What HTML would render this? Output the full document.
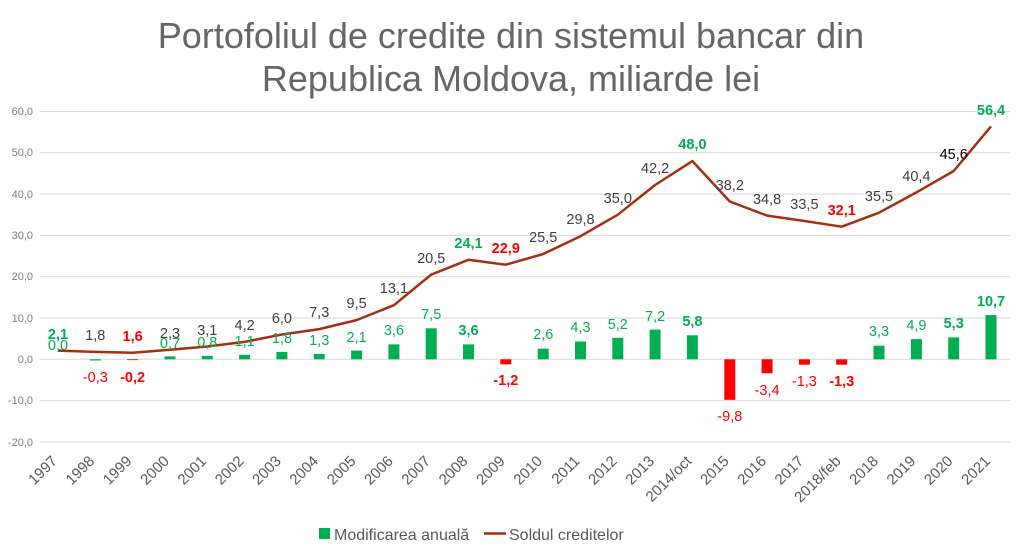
<!DOCTYPE html>
<html><head><meta charset="utf-8"><style>
body{margin:0;background:#fff}
svg{font-family:"Liberation Sans",sans-serif;display:block}
.yl{font-size:11px;fill:#7f7f7f;text-anchor:end}
.ll{font-size:14.5px;fill:#404040;text-anchor:middle}
.bl{font-size:14.5px;fill:#00b050;text-anchor:middle}
.neg{fill:#ff0000}
.b{font-weight:bold}
.g{fill:#00b050}
.xl{font-size:15px;fill:#595959;text-anchor:end}
</style></head><body>
<svg width="1022" height="556" viewBox="0 0 1022 556">
<text x="511" y="48" font-size="36" fill="#666" text-anchor="middle">Portofoliul de credite din sistemul bancar din</text>
<text x="511" y="91" font-size="36" fill="#666" text-anchor="middle">Republica Moldova, miliarde lei</text>
<g stroke="#d9d9d9" stroke-width="1">
<line x1="40" x2="1010" y1="111.5" y2="111.5"/><line x1="40" x2="1010" y1="152.8" y2="152.8"/>
<line x1="40" x2="1010" y1="194.1" y2="194.1"/><line x1="40" x2="1010" y1="235.4" y2="235.4"/>
<line x1="40" x2="1010" y1="276.7" y2="276.7"/><line x1="40" x2="1010" y1="318" y2="318"/>
<line x1="40" x2="1010" y1="359.3" y2="359.3"/><line x1="40" x2="1010" y1="400.6" y2="400.6"/>
<line x1="40" x2="1010" y1="441.9" y2="441.9"/>
</g>
<g class="yl">
<text x="33" y="115">60,0</text><text x="33" y="156">50,0</text><text x="33" y="198">40,0</text>
<text x="33" y="239">30,0</text><text x="33" y="280">20,0</text><text x="33" y="322">10,0</text>
<text x="33" y="363">0,0</text><text x="33" y="404">-10,0</text><text x="33" y="446">-20,0</text>
</g>
<g fill="#00b050">
<rect x="89.8" y="359.3" width="11" height="1.2"/>
<rect x="127.1" y="359.3" width="11" height="0.8" fill="#ff0000"/>
<rect x="164.5" y="356.4" width="11" height="2.9"/>
<rect x="201.8" y="356" width="11" height="3.3"/>
<rect x="239.1" y="354.8" width="11" height="4.5"/>
<rect x="276.4" y="351.9" width="11" height="7.4"/>
<rect x="313.7" y="353.9" width="11" height="5.4"/>
<rect x="351.1" y="350.6" width="11" height="8.7"/>
<rect x="388.4" y="344.4" width="11" height="14.9"/>
<rect x="425.7" y="328.3" width="11" height="31"/>
<rect x="463" y="344.4" width="11" height="14.9"/>
<rect x="500.3" y="359.3" width="11" height="5" fill="#ff0000"/>
<rect x="537.7" y="348.6" width="11" height="10.7"/>
<rect x="575" y="341.5" width="11" height="17.8"/>
<rect x="612.3" y="337.8" width="11" height="21.5"/>
<rect x="649.6" y="329.6" width="11" height="29.7"/>
<rect x="686.9" y="335.3" width="11" height="24"/>
<rect x="724.3" y="359.3" width="11" height="40.5" fill="#ff0000"/>
<rect x="761.6" y="359.3" width="11" height="14" fill="#ff0000"/>
<rect x="798.9" y="359.3" width="11" height="5.4" fill="#ff0000"/>
<rect x="836.2" y="359.3" width="11" height="5.4" fill="#ff0000"/>
<rect x="873.5" y="345.7" width="11" height="13.6"/>
<rect x="910.9" y="339.1" width="11" height="20.2"/>
<rect x="948.2" y="337.4" width="11" height="21.9"/>
<rect x="985.5" y="315.1" width="11" height="44.2"/>
</g>
<polyline fill="none" stroke="#a5300f" stroke-width="2.5" stroke-linejoin="round" points="58,350.6 95.3,351.9 132.6,352.7 170,349.8 207.3,346.5 244.6,341.9 281.9,334.5 319.2,329.1 356.6,320.1 393.9,305.2 431.2,274.6 468.5,259.8 505.8,264.7 543.2,254 580.5,236.2 617.8,214.7 655.1,185 692.4,161.1 729.8,201.5 767.1,215.6 804.4,221 841.7,226.7 879,212.7 916.4,192.4 953.7,171 991,126.4"/>
<g class="ll">
<text x="58" y="339" class="b g">2,1</text><text x="95.3" y="340">1,8</text><text x="132.6" y="341" class="b neg">1,6</text>
<text x="170" y="338">2,3</text><text x="207.3" y="335">3,1</text><text x="244.6" y="330">4,2</text>
<text x="281.9" y="323">6,0</text><text x="319.2" y="317">7,3</text><text x="356.6" y="308">9,5</text>
<text x="393.9" y="293">13,1</text><text x="431.2" y="263">20,5</text><text x="468.5" y="248" class="b g">24,1</text>
<text x="505.8" y="253" class="b neg">22,9</text><text x="543.2" y="242">25,5</text><text x="580.5" y="224">29,8</text>
<text x="617.8" y="203">35,0</text><text x="655.1" y="173">42,2</text><text x="692.4" y="149" class="b g">48,0</text>
<text x="729.8" y="190">38,2</text><text x="767.1" y="204">34,8</text><text x="804.4" y="209">33,5</text>
<text x="841.7" y="215" class="b neg">32,1</text><text x="879" y="201">35,5</text><text x="916.4" y="181">40,4</text>
<text x="953.7" y="159" fill="#000">45,6</text><text x="991" y="115" class="b g">56,4</text>
</g>
<g class="bl">
<text x="58" y="350">0,0</text><text x="95.3" y="382" class="neg">-0,3</text><text x="132.6" y="382" class="b neg">-0,2</text>
<text x="170" y="348">0,7</text><text x="207.3" y="347">0,8</text><text x="244.6" y="346">1,1</text>
<text x="281.9" y="343">1,8</text><text x="319.2" y="345">1,3</text><text x="356.6" y="342">2,1</text>
<text x="393.9" y="335">3,6</text><text x="431.2" y="319">7,5</text><text x="468.5" y="335" class="b">3,6</text>
<text x="505.8" y="385" class="b neg">-1,2</text><text x="543.2" y="339">2,6</text><text x="580.5" y="332">4,3</text>
<text x="617.8" y="329">5,2</text><text x="655.1" y="321">7,2</text><text x="692.4" y="326" class="b">5,8</text>
<text x="729.8" y="421" class="neg">-9,8</text><text x="767.1" y="395" class="neg">-3,4</text><text x="804.4" y="386" class="neg">-1,3</text>
<text x="841.7" y="386" class="b neg">-1,3</text><text x="879" y="336">3,3</text><text x="916.4" y="330">4,9</text>
<text x="953.7" y="328" class="b">5,3</text><text x="991" y="306" class="b">10,7</text>
</g>
<g class="xl">
<text transform="translate(58,462) rotate(-45)">1997</text>
<text transform="translate(95.3,462) rotate(-45)">1998</text>
<text transform="translate(132.6,462) rotate(-45)">1999</text>
<text transform="translate(170,462) rotate(-45)">2000</text>
<text transform="translate(207.3,462) rotate(-45)">2001</text>
<text transform="translate(244.6,462) rotate(-45)">2002</text>
<text transform="translate(281.9,462) rotate(-45)">2003</text>
<text transform="translate(319.2,462) rotate(-45)">2004</text>
<text transform="translate(356.6,462) rotate(-45)">2005</text>
<text transform="translate(393.9,462) rotate(-45)">2006</text>
<text transform="translate(431.2,462) rotate(-45)">2007</text>
<text transform="translate(468.5,462) rotate(-45)">2008</text>
<text transform="translate(505.8,462) rotate(-45)">2009</text>
<text transform="translate(543.2,462) rotate(-45)">2010</text>
<text transform="translate(580.5,462) rotate(-45)">2011</text>
<text transform="translate(617.8,462) rotate(-45)">2012</text>
<text transform="translate(655.1,462) rotate(-45)">2013</text>
<text transform="translate(692.4,462) rotate(-45)">2014/oct</text>
<text transform="translate(729.8,462) rotate(-45)">2015</text>
<text transform="translate(767.1,462) rotate(-45)">2016</text>
<text transform="translate(804.4,462) rotate(-45)">2017</text>
<text transform="translate(841.7,462) rotate(-45)">2018/feb</text>
<text transform="translate(879,462) rotate(-45)">2018</text>
<text transform="translate(916.4,462) rotate(-45)">2019</text>
<text transform="translate(953.7,462) rotate(-45)">2020</text>
<text transform="translate(991,462) rotate(-45)">2021</text>
</g>
<rect x="319" y="528" width="11" height="11" fill="#00b050"/>
<text x="334" y="540" font-size="16" fill="#595959">Modificarea anuală</text>
<line x1="484" x2="506" y1="533.5" y2="533.5" stroke="#a5300f" stroke-width="2.5"/>
<text x="509" y="540" font-size="16" fill="#595959">Soldul creditelor</text>
</svg>
</body></html>
